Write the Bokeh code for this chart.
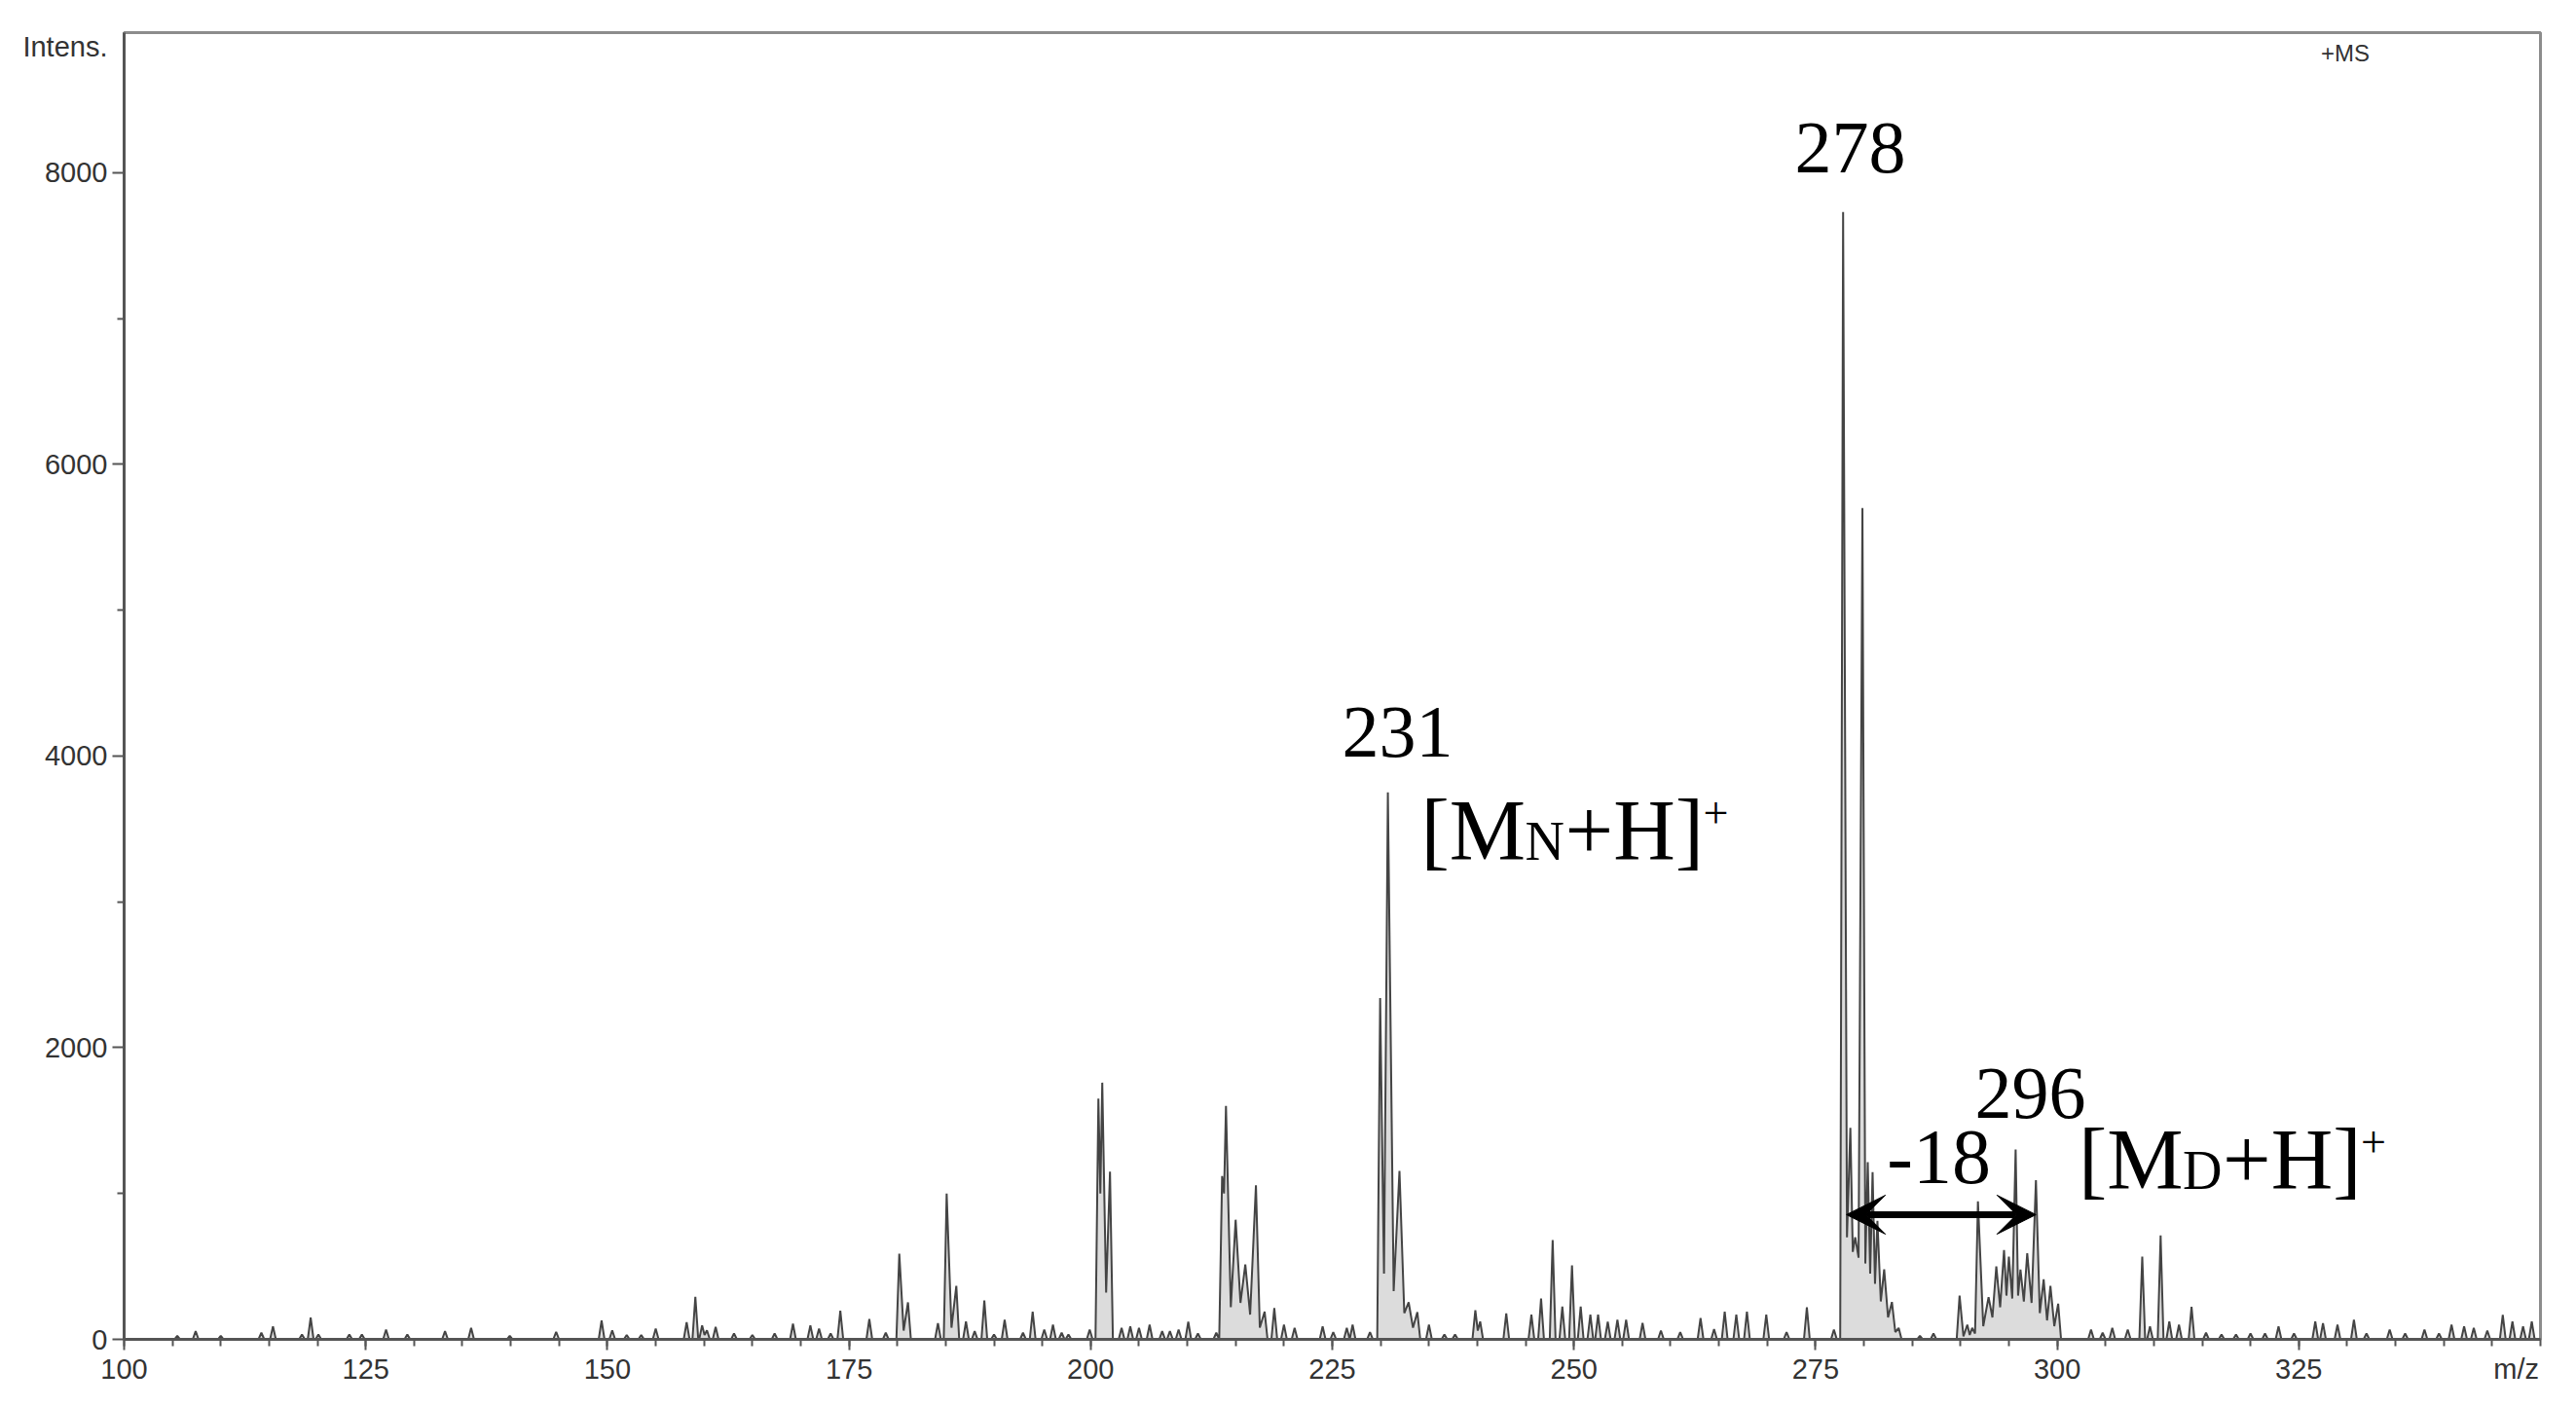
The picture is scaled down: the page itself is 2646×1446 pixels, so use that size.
from bokeh.plotting import figure
from bokeh.models import Range1d, FixedTicker, Label, Arrow, VeeHead, LinearAxis
from bokeh.embed import file_html
from bokeh.resources import INLINE

# ---------------- data ----------------
peak_mz = [105.5, 107.4, 110.0, 114.2, 115.4, 118.4, 119.3, 120.1, 123.3, 124.6,
           127.1, 129.3, 133.2, 135.9, 139.9,
           144.7, 149.4, 150.5, 152.0, 153.5, 155.0, 158.2, 159.1, 159.8, 160.3,
           161.2, 163.1, 165.0, 167.3, 169.2, 171.0, 171.9, 173.1, 174.1, 177.1, 178.8,
           180.2, 181.1, 184.2, 185.1, 186.1, 187.1, 188.0, 189.0, 190.0, 191.1,
           193.0, 194.0, 195.2, 196.1, 197.0, 197.7, 199.9,
           200.8, 201.2, 202.0,
           203.2, 204.1, 205.0, 206.1, 207.4, 208.2, 209.1, 210.1, 211.1, 213.0,
           213.6, 214.0, 215.0, 216.0, 217.1, 218.0, 219.0, 220.0,
           221.1, 224.0, 225.1, 226.5, 227.1, 228.9,
           229.95, 230.75, 231.95, 232.9, 233.8,
           235.0, 236.6, 237.7, 239.8, 240.3, 243.0,
           245.6, 246.6, 247.8, 248.8, 249.8, 250.7, 251.7, 252.5, 253.5, 254.5,
           255.4, 257.1, 259.0, 261.0, 263.1, 264.5, 265.6, 266.8, 267.9, 269.9,
           272.0, 274.1, 276.9,
           277.85, 278.6, 279.1, 279.85, 280.4, 280.9, 281.4, 282.1, 282.9, 283.6,
           285.8, 287.2,
           289.9, 290.7, 291.2, 291.8, 292.9, 293.7, 294.5, 295.0, 295.7, 296.2,
           296.9, 297.8, 298.6, 299.3, 300.1,
           303.5, 304.7, 305.7, 307.3, 308.8, 309.6, 310.7, 311.6, 312.6, 313.9,
           315.4, 317.0, 318.5, 320.0, 321.5, 322.9, 324.5, 326.7, 327.5, 329.0,
           330.7, 332.0, 334.4, 336.0, 338.0, 339.5, 340.8, 342.1, 343.1, 344.5,
           346.1, 347.1, 348.2, 349.1]
peak_int = [25, 56, 25, 45, 89, 33, 150, 33, 33, 33,
            67, 33, 56, 78, 25,
            51, 129, 62, 29, 29, 73, 118, 292, 96, 62,
            85, 40, 30, 40, 107, 96, 73, 40, 196, 140, 45,
            587, 254, 111, 1000, 367, 122, 56, 267, 33, 134,
            45, 189, 67, 100, 45, 33, 67,
            1650, 1760, 1150,
            78, 89, 78, 100, 56, 56, 67, 120, 40, 45,
            1120, 1600, 820, 514, 1057, 190, 214, 100,
            78, 89, 50, 78, 100, 50,
            2340, 3750, 1155, 254, 187,
            100, 33, 33, 200, 122, 178,
            170, 280, 680, 225, 507, 225, 170, 170, 120, 135,
            135, 113, 60, 50, 146, 70, 190, 170, 190, 170,
            50, 220, 67,
            7730, 1450, 700, 5700, 1215, 1146, 812, 480, 256, 78,
            25, 40,
            300, 100, 78, 946, 290, 500, 612, 567, 1302, 479,
            590, 1091, 412, 367, 245,
            67, 45, 78, 67, 567, 89, 712, 122, 100, 223,
            45, 33, 33, 40, 40, 89, 40, 122, 111, 100,
            134, 40, 67, 40, 67, 40, 100, 89, 78, 60,
            167, 122, 89, 122]

# troughs inside overlapping peak clusters
valley_mz = [160.05, 180.65, 185.6, 201.0, 201.6,
             213.8, 214.5, 215.5, 216.5, 217.5,
             230.35, 231.35, 232.45, 233.35, 240.05,
             278.25, 278.85, 279.45, 280.15, 280.65, 281.15, 281.75, 282.5, 283.25,
             290.3, 290.95, 291.5, 292.35, 293.3, 294.1, 294.75, 295.35, 295.95,
             296.55, 297.35, 298.2, 298.95, 299.7]
valley_int = [30, 60, 80, 1000, 320,
              1000, 220, 250, 170, 80,
              450, 330, 180, 80, 60,
              700, 600, 560, 520, 450, 380, 260, 150, 50,
              20, 30, 40, 90, 150, 220, 300, 280, 300,
              260, 250, 180, 130, 90]

x_ticks = [100, 125, 150, 175, 200, 225, 250, 275, 300, 325]
y_ticks = [0, 2000, 4000, 6000, 8000]
y_minor = [1000, 3000, 5000, 7000]

# ---------------- build the profile trace ----------------
HW = 0.3
events = sorted([(m, h, True) for m, h in zip(peak_mz, peak_int)] +
                [(m, v, False) for m, v in zip(valley_mz, valley_int)])
tx, ty = [100.0], [0.0]
for i, (m, h, is_peak) in enumerate(events):
    if is_peak:
        prev = events[i - 1] if i > 0 else None
        nxt = events[i + 1] if i + 1 < len(events) else None
        if prev is None or prev[2]:
            left = m - HW if prev is None else max(m - HW, (prev[0] + m) / 2)
            tx.append(left); ty.append(0.0)
        tx.append(m); ty.append(h)
        if nxt is None or nxt[2]:
            right = m + HW if nxt is None else min(m + HW, (m + nxt[0]) / 2)
            tx.append(right); ty.append(0.0)
    else:
        tx.append(m); ty.append(h)
tx.append(350.0); ty.append(0.0)

# ---------------- figure ----------------
p = figure(frame_width=2482, frame_height=1342,
           x_range=Range1d(100, 350), y_range=Range1d(0, 8960),
           output_backend="svg", toolbar_location=None,
           min_border_left=127, min_border_top=33, min_border_right=30,
           min_border_bottom=60)
p.background_fill_color = "white"
p.border_fill_color = "white"
p.outline_line_color = "#8c8c8c"
p.outline_line_width = 3
p.xgrid.visible = False
p.ygrid.visible = False

AX = "#555555"
LBL = "#333333"
SANS = "Liberation Sans"

# inner axes: line + ticks only (their own labels are not painted)
p.xaxis.ticker = FixedTicker(ticks=x_ticks, minor_ticks=list(range(100, 351, 5)))
p.yaxis.ticker = FixedTicker(ticks=y_ticks, minor_ticks=y_minor)
for ax in (p.xaxis, p.yaxis):
    ax.axis_line_color = AX
    ax.axis_line_width = 3
    ax.major_tick_line_color = AX
    ax.major_tick_line_width = 2
    ax.minor_tick_line_color = AX
    ax.minor_tick_line_width = 2
    ax.major_tick_in = 0
    ax.minor_tick_in = 0
    ax.major_label_text_font_size = "1px"
    ax.major_label_text_color = None
    ax.major_label_standoff = 0
p.xaxis.major_tick_out = 11
p.xaxis.minor_tick_out = 7
p.yaxis.major_tick_out = 12
p.yaxis.minor_tick_out = 7

# outer axes: labels only (incl. the "Intens." and "m/z" captions)
def label_axis(ticks, overrides, standoff):
    a = LinearAxis(ticker=FixedTicker(ticks=ticks), major_label_overrides=overrides)
    a.axis_line_color = None
    a.major_tick_line_color = None
    a.minor_tick_line_color = None
    a.major_tick_out = 0
    a.minor_tick_out = 0
    a.major_tick_in = 0
    a.minor_tick_in = 0
    a.major_label_standoff = standoff
    a.major_label_text_font = SANS
    a.major_label_text_font_size = "29px"
    a.major_label_text_color = LBL
    return a

p.add_layout(label_axis(y_ticks + [8860], {8860: "Intens."}, 5), "left")
p.add_layout(label_axis(x_ticks + [347.5], {347.5: "m/z"}, 3), "below")

p.varea(x=tx, y1=0, y2=ty, fill_color="#dcdcdc")
p.line(x=tx, y=ty, line_color="#444444", line_width=2)

BL = 0.37  # baseline correction (fraction of font size)

def lab(x, y, text, size, font, color, align="left", dx=0, dy=0):
    p.add_layout(Label(x=x, y=y, x_offset=dx, y_offset=dy + round(BL * size), text=text,
                       text_align=align, text_baseline="alphabetic", text_font=font,
                       text_font_size=f"{size}px", text_color=color))

lab(329.8, 8761, "+MS", 24, SANS, LBL, align="center")

SERIF = "Liberation Serif"
for (lx, ly, txt, fs) in [(272.85, 7980, "278", 76), (226.0, 3973, "231", 76),
                          (291.48, 1502, "296", 76), (282.4, 1048, "-18", 80)]:
    lab(lx, ly, txt, fs, SERIF, "black")

def ion_label(ax, ay, sub):
    parts = [("[M", 0, 0, 88), (sub, 107, 0, 56), ("+H]", 148, 0, 88), ("+", 290, 34, 46)]
    for t, dx, dy, fs in parts:
        lab(ax, ay, t, fs, SERIF, "black", dx=dx, dy=dy)

ion_label(234.17, 3272, "N")
ion_label(302.21, 1015, "D")

p.add_layout(Arrow(start=VeeHead(size=40, fill_color="black", line_color="black"),
                   end=VeeHead(size=40, fill_color="black", line_color="black"),
                   x_start=278.2, y_start=855, x_end=297.8, y_end=855,
                   line_color="black", line_width=7))

open("out.html", "w").write(file_html(p, INLINE))
